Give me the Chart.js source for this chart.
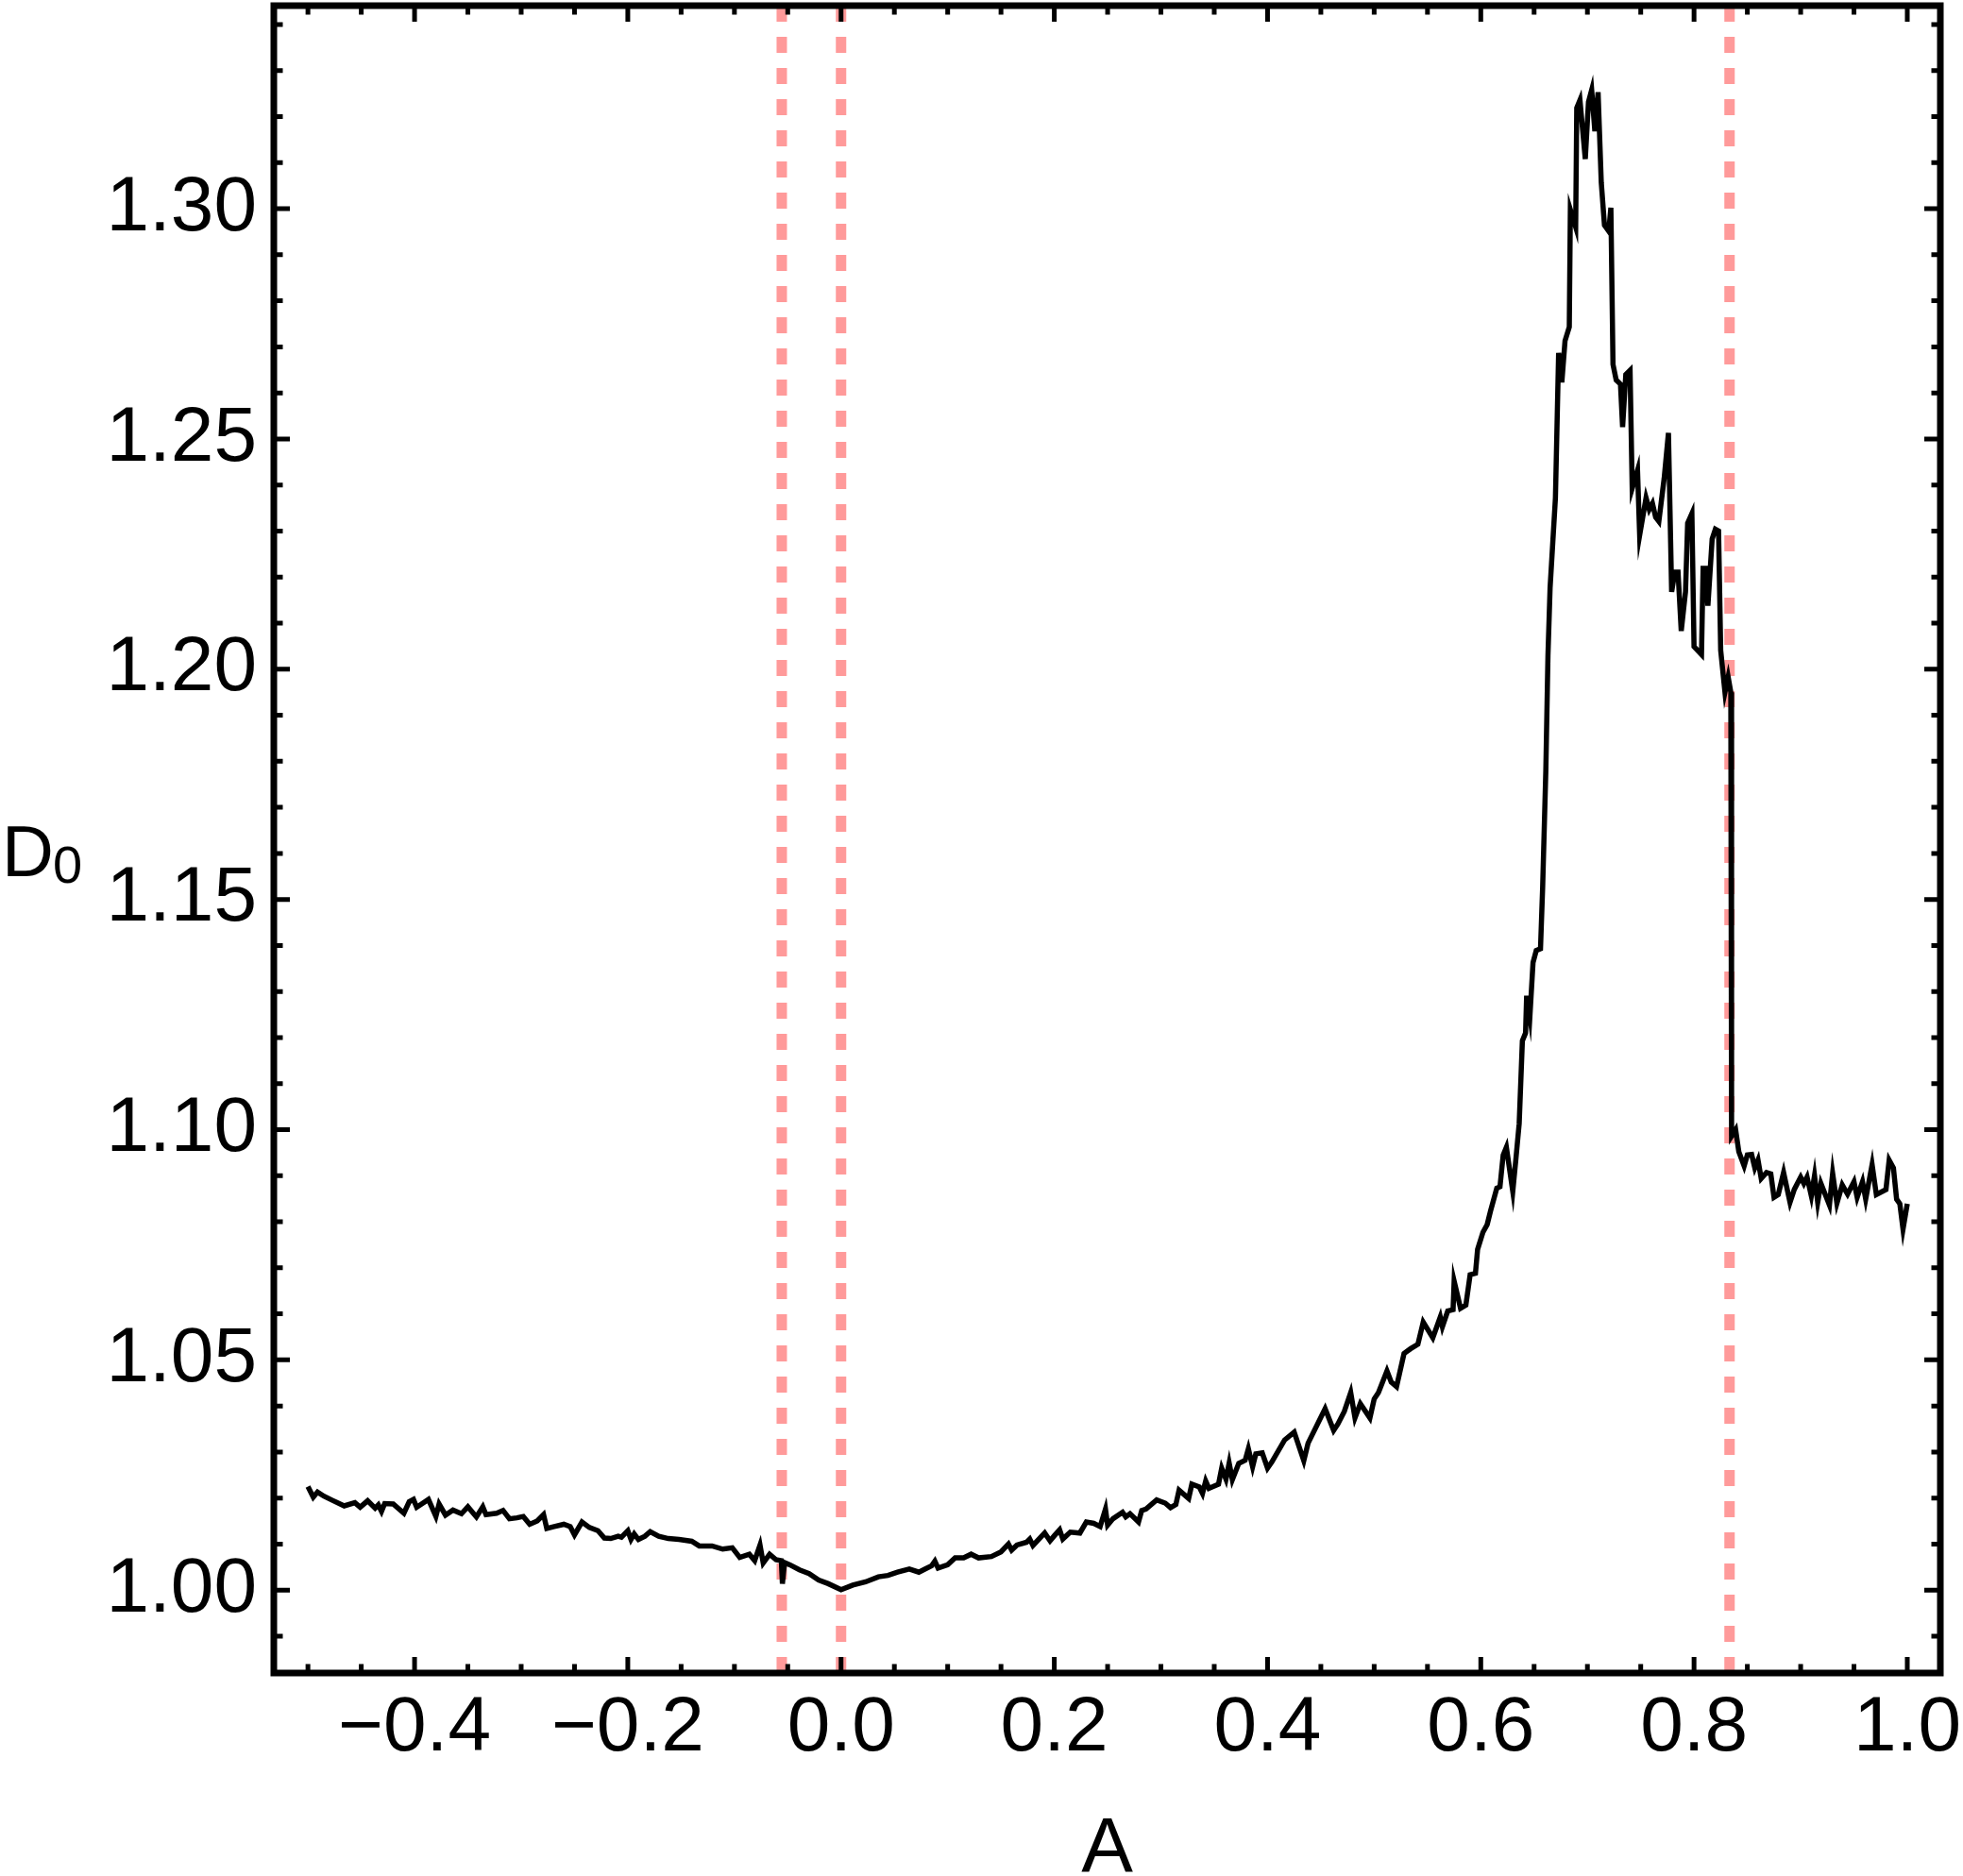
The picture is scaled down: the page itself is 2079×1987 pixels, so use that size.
<!DOCTYPE html>
<html>
<head>
<meta charset="utf-8">
<script src="https://cdn.jsdelivr.net/npm/chart.js@4.4.0/dist/chart.umd.min.js"></script>
<style>
  html, body { margin: 0; padding: 0; background: #fff; }
</style>
</head>
<body>
<canvas id="chart" width="2079" height="1987"></canvas>
<script>
// D0 versus A

const A_VALUES = [
  -0.500, -0.495, -0.491, -0.485, -0.477, -0.466, -0.456, -0.451, -0.444, -0.437,
  -0.434, -0.431, -0.428, -0.420, -0.410, -0.405, -0.401, -0.398, -0.387, -0.380,
  -0.377, -0.371, -0.364, -0.356, -0.350, -0.342, -0.336, -0.333, -0.323, -0.317,
  -0.311, -0.304, -0.298, -0.292, -0.285, -0.279, -0.276, -0.269, -0.260, -0.254,
  -0.250, -0.243, -0.236, -0.228, -0.222, -0.216, -0.209, -0.206, -0.200, -0.197,
  -0.194, -0.190, -0.184, -0.179, -0.171, -0.162, -0.152, -0.140, -0.133, -0.121,
  -0.111, -0.102, -0.095, -0.086, -0.081, -0.076, -0.073, -0.067, -0.061, -0.056,
  -0.055, -0.053, -0.048, -0.039, -0.030, -0.021, -0.012, 0.000, 0.011, 0.023,
  0.035, 0.044, 0.053, 0.064, 0.073, 0.079, 0.085, 0.088, 0.091, 0.100,
  0.107, 0.115, 0.122, 0.129, 0.141, 0.150, 0.157, 0.160, 0.165, 0.174,
  0.177, 0.180, 0.191, 0.196, 0.200, 0.205, 0.208, 0.215, 0.224, 0.230,
  0.237, 0.243, 0.248, 0.250, 0.255, 0.264, 0.267, 0.271, 0.279, 0.282,
  0.286, 0.296, 0.304, 0.309, 0.314, 0.317, 0.326, 0.329, 0.336, 0.339,
  0.342, 0.345, 0.354, 0.357, 0.361, 0.364, 0.367, 0.373, 0.379, 0.382,
  0.386, 0.389, 0.395, 0.400, 0.404, 0.416, 0.425, 0.434, 0.438, 0.454,
  0.462, 0.466, 0.472, 0.478, 0.482, 0.487, 0.496, 0.500, 0.504, 0.512,
  0.516, 0.521, 0.528, 0.534, 0.541, 0.546, 0.555, 0.562, 0.564, 0.569,
  0.574, 0.575, 0.581, 0.586, 0.590, 0.595, 0.597, 0.602, 0.606, 0.609,
  0.615, 0.618, 0.621, 0.624, 0.630, 0.633, 0.636, 0.639, 0.642, 0.643,
  0.646, 0.649, 0.652, 0.656, 0.658, 0.661, 0.663, 0.665, 0.670, 0.673,
  0.676, 0.679, 0.683, 0.684, 0.689, 0.690, 0.693, 0.698, 0.701, 0.704,
  0.707, 0.710, 0.713, 0.716, 0.720, 0.722, 0.724, 0.727, 0.731, 0.733,
  0.736, 0.740, 0.742, 0.747, 0.749, 0.755, 0.758, 0.761, 0.764, 0.767,
  0.772, 0.776, 0.779, 0.782, 0.785, 0.788, 0.792, 0.794, 0.798, 0.800,
  0.807, 0.8085, 0.811, 0.813, 0.817, 0.820, 0.823, 0.825, 0.829, 0.832,
  0.8345, 0.8352, 0.839, 0.842, 0.847, 0.850, 0.854, 0.857, 0.860, 0.863,
  0.868, 0.872, 0.875, 0.879, 0.884, 0.890, 0.894, 0.900, 0.903, 0.906,
  0.910, 0.913, 0.916, 0.919, 0.927, 0.930, 0.934, 0.939, 0.944, 0.950,
  0.953, 0.958, 0.961, 0.967, 0.971, 0.980, 0.983, 0.987, 0.990, 0.993,
  0.996, 1.000,
];

const D0_VALUES = [
  1.0225, 1.0202, 1.0213, 1.0204, 1.0195, 1.0183, 1.0190, 1.0180, 1.0194, 1.0178,
  1.0185, 1.0171, 1.0188, 1.0187, 1.0167, 1.0192, 1.0197, 1.0180, 1.0197, 1.0160,
  1.0187, 1.0163, 1.0174, 1.0166, 1.0181, 1.0159, 1.0181, 1.0164, 1.0167, 1.0173,
  1.0155, 1.0157, 1.0160, 1.0143, 1.0150, 1.0164, 1.0134, 1.0138, 1.0143, 1.0138,
  1.0120, 1.0148, 1.0136, 1.0129, 1.0113, 1.0112, 1.0117, 1.0115, 1.0129, 1.0110,
  1.0122, 1.0110, 1.0117, 1.0127, 1.0117, 1.0112, 1.0110, 1.0106, 1.0096, 1.0096,
  1.0089, 1.0092, 1.0071, 1.0078, 1.0064, 1.0098, 1.0059, 1.0078, 1.0066, 1.0064,
  1.0014, 1.0060, 1.0055, 1.0044, 1.0036, 1.0022, 1.0014, 1.0001, 1.0011, 1.0018,
  1.0029, 1.0032, 1.0039, 1.0046, 1.0039, 1.0046, 1.0053, 1.0063, 1.0048, 1.0055,
  1.0070, 1.0070, 1.0078, 1.0070, 1.0073, 1.0083, 1.0100, 1.0087, 1.0098, 1.0104,
  1.0111, 1.0097, 1.0124, 1.0107, 1.0118, 1.0131, 1.0111, 1.0126, 1.0124, 1.0148,
  1.0145, 1.0138, 1.0176, 1.0141, 1.0155, 1.0169, 1.0159, 1.0166, 1.0148, 1.0173,
  1.0176, 1.0196, 1.0189, 1.0179, 1.0186, 1.0217, 1.0199, 1.0230, 1.0224, 1.0210,
  1.0237, 1.0221, 1.0230, 1.0265, 1.0241, 1.0276, 1.0240, 1.0275, 1.0282, 1.0307,
  1.0268, 1.0296, 1.0298, 1.0265, 1.0278, 1.0326, 1.0343, 1.0281, 1.0319, 1.0394,
  1.0347, 1.0361, 1.0388, 1.0429, 1.0374, 1.0405, 1.0374, 1.0415, 1.0429, 1.0476,
  1.0452, 1.0442, 1.0514, 1.0524, 1.0534, 1.0582, 1.0548, 1.0593, 1.0572, 1.0606,
  1.0609, 1.0671, 1.0612, 1.0619, 1.0685, 1.0688, 1.0740, 1.0777, 1.0794, 1.0822,
  1.0873, 1.0876, 1.0945, 1.0962, 1.0866, 1.0938, 1.1013, 1.1193, 1.1210, 1.1291,
  1.1244, 1.1363, 1.1389, 1.1393, 1.1525, 1.1780, 1.2030, 1.2177, 1.2372, 1.2687,
  1.2623, 1.2713, 1.2743, 1.2998, 1.2960, 1.3219, 1.3236, 1.3108, 1.3232, 1.3258,
  1.3168, 1.3253, 1.3057, 1.2964, 1.2951, 1.3002, 1.2662, 1.2628, 1.2619, 1.2526,
  1.2640, 1.2649, 1.2393, 1.2432, 1.2291, 1.2372, 1.2347, 1.2360, 1.2330, 1.2321,
  1.2415, 1.2513, 1.2168, 1.2211, 1.2211, 1.2083, 1.2168, 1.2317, 1.2338, 1.2049,
  1.2032, 1.2219, 1.2219, 1.2138, 1.2283, 1.2304, 1.2300, 1.2041, 1.1950, 1.1983,
  1.1950, 1.0986, 1.1000, 1.0952, 1.0921, 1.0945, 1.0946, 1.0917, 1.0934, 1.0894,
  1.0907, 1.0904, 1.0853, 1.0859, 1.0907, 1.0842, 1.0870, 1.0897, 1.0883, 1.0897,
  1.0856, 1.0900, 1.0842, 1.0883, 1.0836, 1.0905, 1.0840, 1.0880, 1.0860, 1.0887,
  1.0853, 1.0887, 1.0849, 1.0924, 1.0859, 1.0870, 1.0934, 1.0917, 1.0849, 1.0839,
  1.0784, 1.0839,
];

// vertical reference lines (red, dashed)
const MARKER_A = [-0.0556, 0.0, 0.8333];

const X_MIN = -0.532, X_MAX = 1.031;
const Y_MIN = 0.982, Y_MAX = 1.3441;

const X_MAJOR = [-0.4, -0.2, 0.0, 0.2, 0.4, 0.6, 0.8, 1.0];
const X_MINOR = [-0.5, -0.45, -0.35, -0.3, -0.25, -0.15, -0.1, -0.05, 0.05, 0.1, 0.15,
  0.25, 0.3, 0.35, 0.45, 0.5, 0.55, 0.65, 0.7, 0.75, 0.85, 0.9, 0.95];
const Y_MAJOR = [1.00, 1.05, 1.10, 1.15, 1.20, 1.25, 1.30];
const Y_MINOR = [0.99, 1.01, 1.02, 1.03, 1.04, 1.06, 1.07, 1.08, 1.09, 1.11, 1.12, 1.13,
  1.14, 1.16, 1.17, 1.18, 1.19, 1.21, 1.22, 1.23, 1.24, 1.26, 1.27, 1.28, 1.29,
  1.31, 1.32, 1.33, 1.34];

const FONT = '"Liberation Sans", Arial, sans-serif';
const TICK_FONT = { family: FONT, size: 82 };

function fmt(v, digits) {
  const s = Math.abs(v).toFixed(digits);
  return v < -1e-9 ? '\u2212' + s : s;
}

// frame with inward ticks on all four sides, plus axis titles
const framePlugin = {
  id: 'frame',
  afterDraw(chart) {
    const { ctx, chartArea: a, scales: { x, y } } = chart;
    ctx.save();
    ctx.strokeStyle = '#000';
    ctx.lineWidth = 5;
    ctx.lineCap = 'butt';
    ctx.beginPath();
    const xTick = (v, len) => {
      const p = x.getPixelForValue(v);
      ctx.moveTo(p, a.bottom); ctx.lineTo(p, a.bottom - len);
      ctx.moveTo(p, a.top); ctx.lineTo(p, a.top + len);
    };
    const yTick = (v, len) => {
      const p = y.getPixelForValue(v);
      ctx.moveTo(a.left, p); ctx.lineTo(a.left + len, p);
      ctx.moveTo(a.right, p); ctx.lineTo(a.right - len, p);
    };
    X_MAJOR.forEach(v => xTick(v, 17));
    X_MINOR.forEach(v => xTick(v, 9.5));
    Y_MAJOR.forEach(v => yTick(v, 17));
    Y_MINOR.forEach(v => yTick(v, 9.5));
    ctx.stroke();

    ctx.lineWidth = 7;
    ctx.strokeRect(a.left, a.top, a.right - a.left, a.bottom - a.top);

    ctx.fillStyle = '#000';
    ctx.textBaseline = 'alphabetic';
    ctx.textAlign = 'center';
    ctx.font = `82px ${FONT}`;
    ctx.fillText('A', (a.left + a.right) / 2, 1982);
    ctx.textAlign = 'left';
    ctx.font = `76px ${FONT}`;
    ctx.fillText('D', 2, 928);
    ctx.font = `56px ${FONT}`;
    ctx.fillText('0', 56, 935);
    ctx.restore();
  },
};

const curve = A_VALUES.map((a, i) => ({ x: a, y: D0_VALUES[i] }));

const markerSets = MARKER_A.map(a => ({
  data: [{ x: a, y: Y_MIN }, { x: a, y: Y_MAX }],
  borderColor: '#ff9a9a',
  borderWidth: 11,
  borderDash: [17, 16],
  pointRadius: 0,
  showLine: true,
  order: 2,
}));

new Chart(document.getElementById('chart'), {
  type: 'scatter',
  data: {
    datasets: [
      { data: curve, borderColor: '#000', borderWidth: 5.5, pointRadius: 0, showLine: true, tension: 0, order: 1, borderJoinStyle: 'miter' },
      ...markerSets,
    ],
  },
  options: {
    responsive: false,
    animation: false,
    events: [],
    layout: { padding: { top: 6, right: 24, left: 0, bottom: 0 } },
    plugins: { legend: { display: false }, tooltip: { enabled: false } },
    scales: {
      x: {
        type: 'linear', min: X_MIN, max: X_MAX,
        afterBuildTicks: s => { s.ticks = X_MAJOR.map(v => ({ value: v })); },
        afterFit: s => { s.height = 215; s.paddingLeft = 0; s.paddingRight = 0; },
        ticks: { callback: v => fmt(v, 1), font: TICK_FONT, color: '#000', padding: 10, maxRotation: 0, autoSkip: false },
        grid: { display: false, drawTicks: false },
        border: { display: false },
      },
      y: {
        type: 'linear', min: Y_MIN, max: Y_MAX,
        afterBuildTicks: s => { s.ticks = Y_MAJOR.map(v => ({ value: v })); },
        afterFit: s => { s.width = 290; s.paddingTop = 0; s.paddingBottom = 0; },
        ticks: { callback: v => fmt(v, 2), font: TICK_FONT, color: '#000', padding: 18, autoSkip: false },
        grid: { display: false, drawTicks: false },
        border: { display: false },
      },
    },
  },
  plugins: [framePlugin],
});
</script>
</body>
</html>
